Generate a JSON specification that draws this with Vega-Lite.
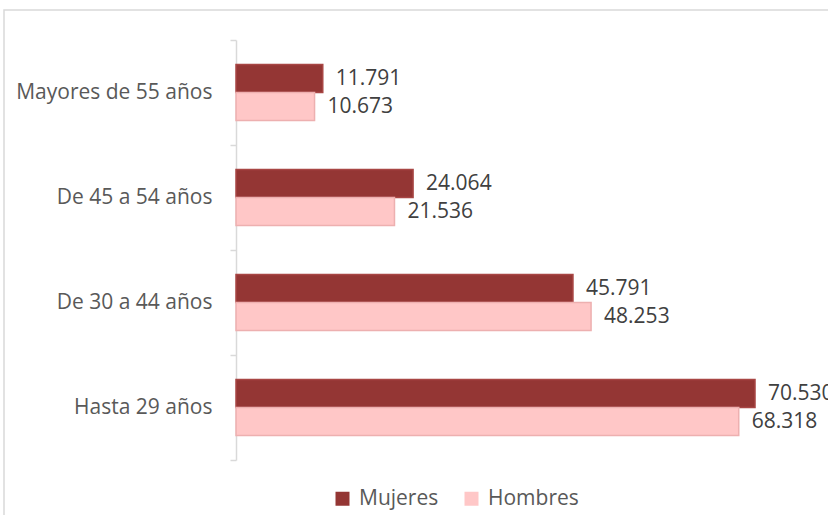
{
  "$schema": "https://vega.github.io/schema/vega-lite/v6.json",
  "autosize": "none",
  "width": 830,
  "height": 510,
  "padding": {"left": 4, "top": 10, "right": 0, "bottom": 0},
  "background": "white",
  "config": {
    "locale": {"number": {"decimal": ",", "thousands": ".", "grouping": [3], "currency": ["", " €"]}},
    "view": {"stroke": "#d9d9d9", "strokeWidth": 1.5},
    "font": "Open Sans"
  },
  "data": {
    "values": [
      {"edad": "Mayores de 55 años", "sexo": "Mujeres", "valor": 11791},
      {"edad": "Mayores de 55 años", "sexo": "Hombres", "valor": 10673},
      {"edad": "De 45 a 54 años", "sexo": "Mujeres", "valor": 24064},
      {"edad": "De 45 a 54 años", "sexo": "Hombres", "valor": 21536},
      {"edad": "De 30 a 44 años", "sexo": "Mujeres", "valor": 45791},
      {"edad": "De 30 a 44 años", "sexo": "Hombres", "valor": 48253},
      {"edad": "Hasta 29 años", "sexo": "Mujeres", "valor": 70530},
      {"edad": "Hasta 29 años", "sexo": "Hombres", "valor": 68318}
    ]
  },
  "encoding": {
    "y": {
      "field": "edad",
      "type": "nominal",
      "sort": ["Mayores de 55 años", "De 45 a 54 años", "De 30 a 44 años", "Hasta 29 años"],
      "scale": {"range": [30, 450], "paddingInner": 0, "paddingOuter": 0},
      "axis": {
        "title": null,
        "offset": -232,
        "domainColor": "#d9d9d9",
        "domainWidth": 1.5,
        "tickColor": "#d9d9d9",
        "tickWidth": 1.5,
        "tickSize": 6,
        "tickBand": "extent",
        "labelPadding": 18,
        "labelFont": "Open Sans",
        "labelFontSize": 21,
        "labelColor": "#595959",
        "labelLimit": 300
      }
    },
    "yOffset": {
      "field": "sexo",
      "type": "nominal",
      "sort": ["Mujeres", "Hombres"],
      "scale": {"paddingInner": 0, "paddingOuter": 0.875}
    },
    "x": {
      "field": "valor",
      "type": "quantitative",
      "scale": {"domain": [0, 80000], "range": [232, 820.7], "nice": false},
      "axis": null
    }
  },
  "layer": [
    {
      "mark": {"type": "bar", "strokeWidth": 1.5},
      "encoding": {
        "color": {
          "field": "sexo",
          "type": "nominal",
          "sort": ["Mujeres", "Hombres"],
          "scale": {"domain": ["Mujeres", "Hombres"], "range": ["#943634", "#FFC7C7"]},
          "legend": {
            "title": null,
            "orient": "none",
            "direction": "horizontal",
            "legendX": 328,
            "legendY": 478,
            "symbolType": "square",
            "symbolSize": 196,
            "symbolStrokeWidth": 0,
            "labelFont": "Open Sans",
            "labelFontSize": 21,
            "labelColor": "#595959",
            "labelOffset": 6,
            "columnPadding": 22
          }
        },
        "stroke": {
          "field": "sexo",
          "type": "nominal",
          "scale": {"domain": ["Mujeres", "Hombres"], "range": ["#A84644", "#EDB0B0"]},
          "legend": null
        }
      }
    },
    {
      "mark": {"type": "text", "align": "left", "baseline": "middle", "dx": 13, "font": "Open Sans", "fontSize": 21, "color": "#404040"},
      "encoding": {
        "text": {"field": "valor", "type": "quantitative", "format": ",.0f"}
      }
    }
  ]
}
